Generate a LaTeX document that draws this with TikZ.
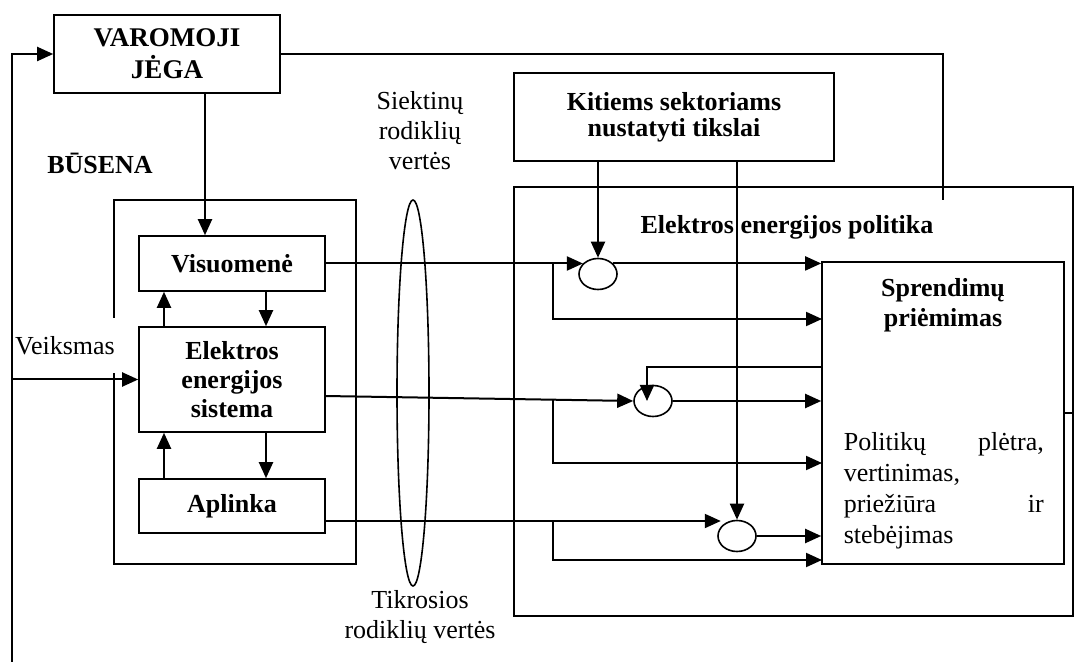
\documentclass[tikz,border=0pt]{standalone}
\usepackage{fontspec}
\setmainfont{Liberation Serif}
\usetikzlibrary{arrows.meta,shapes.geometric}
\tikzset{every picture/.style={line width=0.8pt}}

\begin{document}
\begin{tikzpicture}[x=0.5pt,y=0.5pt,yscale=-1,xscale=1,
  font=\fontsize{13pt}{15pt}\selectfont,
  bold/.style={font=\fontsize{13pt}{15pt}\selectfont\bfseries},
  box/.style={draw, inner sep=0pt, align=center, bold},
  circ/.style={draw, ellipse, inner sep=0pt, minimum width=19pt, minimum height=15.5pt},
  arr/.style={line width=1pt, -{Triangle[length=8pt,width=7pt]}},
  wire/.style={line width=1pt}]
\useasboundingbox (0,0) rectangle (1076,662);

% Boxes
\node[box, minimum width=113pt, minimum height=39pt, font=\fontsize{13.5pt}{16pt}\selectfont\bfseries] (varo) at (167,54) {VAROMOJI\\JĖGA};
\node[box, minimum width=121pt, minimum height=182pt] (bus) at (235,382) {};
\node[box, minimum width=93pt, minimum height=27.5pt] (visu) at (232,263.5) {Visuomenė};
\node[box, minimum width=93pt, minimum height=52.5pt, font=\fontsize{13pt}{14.5pt}\selectfont\bfseries] (elek) at (232,379.5) {Elektros\\energijos\\sistema};
\node[box, minimum width=93pt, minimum height=27pt] (apl) at (232,506) {Aplinka};
\node[box, minimum width=160pt, minimum height=44pt, font=\fontsize{13pt}{13pt}\selectfont\bfseries] (kit) at (674,117) {Kitiems sektoriams\\nustatyti tikslai};
\node[box, minimum width=279.5pt, minimum height=214.5pt] (polit) at (793.5,401.5) {};
\node[box, minimum width=121pt, minimum height=151pt] (spr) at (943,413) {};
\node[fill=white, inner sep=0pt, minimum width=51pt, minimum height=27.5pt] (veik) at (65,346) {Veiksmas};

% Ellipses
\node[draw, ellipse, inner sep=0pt, minimum width=16pt, minimum height=193pt] (oval) at (413,393) {};
\node[circ] (c1) at (598,274) {};
\node[circ] (c2) at (653,401) {};
\node[circ] (c3) at (737,536) {};

% Loop round the state
\coordinate (lb) at (12,662);
\coordinate (vt) at (943,200);
\coordinate (vx) at (205,0);
\draw[arr] (lb) |- (varo.west);
\draw[wire] (varo.east) -| (vt);
\draw[arr] (lb |- elek.west) -- (elek.west);
\draw[arr] (varo.south -| vx) -- (visu.north -| vx);

% Inside the state
\coordinate (ux) at (164,0);
\coordinate (dx) at (266,0);
\draw[arr] (elek.north -| ux) -- (visu.south -| ux);
\draw[arr] (visu.south -| dx) -- (elek.north -| dx);
\draw[arr] (apl.north -| ux) -- (elek.south -| ux);
\draw[arr] (elek.south -| dx) -- (apl.north -| dx);

% Row 1
\coordinate (bx) at (553,0);
\coordinate (t1) at (822,319);
\draw[arr] (visu.east) -- (visu.east -| c1.145);
\draw[arr] (c1.north |- kit.south) -- (c1.north);
\draw[arr] (c1.35) -- (c1.35 -| spr.west);
\draw[arr] (visu.east -| bx) |- (t1);

% Row 2
\coordinate (e2) at (325,396);
\coordinate (b2) at (553,400);
\coordinate (t2) at (822,463);
\coordinate (fb) at (647,367);
\draw[arr] (e2) -- (c2.west);
\draw[arr] (c2.east) -- (c2.east -| spr.west);
\draw[arr] (b2) |- (t2);
\draw[arr] (fb -| spr.west) -- (fb) -- (fb |- c2.center);

% Row 3
\coordinate (a3) at (325,521);
\coordinate (b3) at (553,521);
\coordinate (t3) at (822,560);
\draw[arr] (a3) -- (a3 -| c3.150);
\draw[arr] (c3.north |- kit.south) -- (c3.north);
\draw[arr] (c3.east) -- (c3.east -| spr.west);
\draw[arr] (b3) |- (t3);
\draw[wire] (spr.east) -- (spr.east -| polit.east);

% Text
\node[bold] (busT) at (100,163) {BŪSENA};
\node[align=center] (siekT) at (420,131) {Siektinų\\rodiklių\\vertės};
\node[align=center] (tikrT) at (420,617) {Tikrosios\\rodiklių vertės};
\node[bold] (politT) at (787,227) {Elektros energijos politika};
\node[bold, align=center] (sprT) at (943,305) {Sprendimų\\priėmimas};
\node[anchor=north west, text width=100pt, align=left, inner sep=0pt, font=\fontsize{13pt}{15.5pt}\selectfont] (polT) at (843,432) {Politikų\hfill plėtra,\\vertinimas,\\priežiūra\hfill ir\\stebėjimas};

\end{tikzpicture}
\end{document}
